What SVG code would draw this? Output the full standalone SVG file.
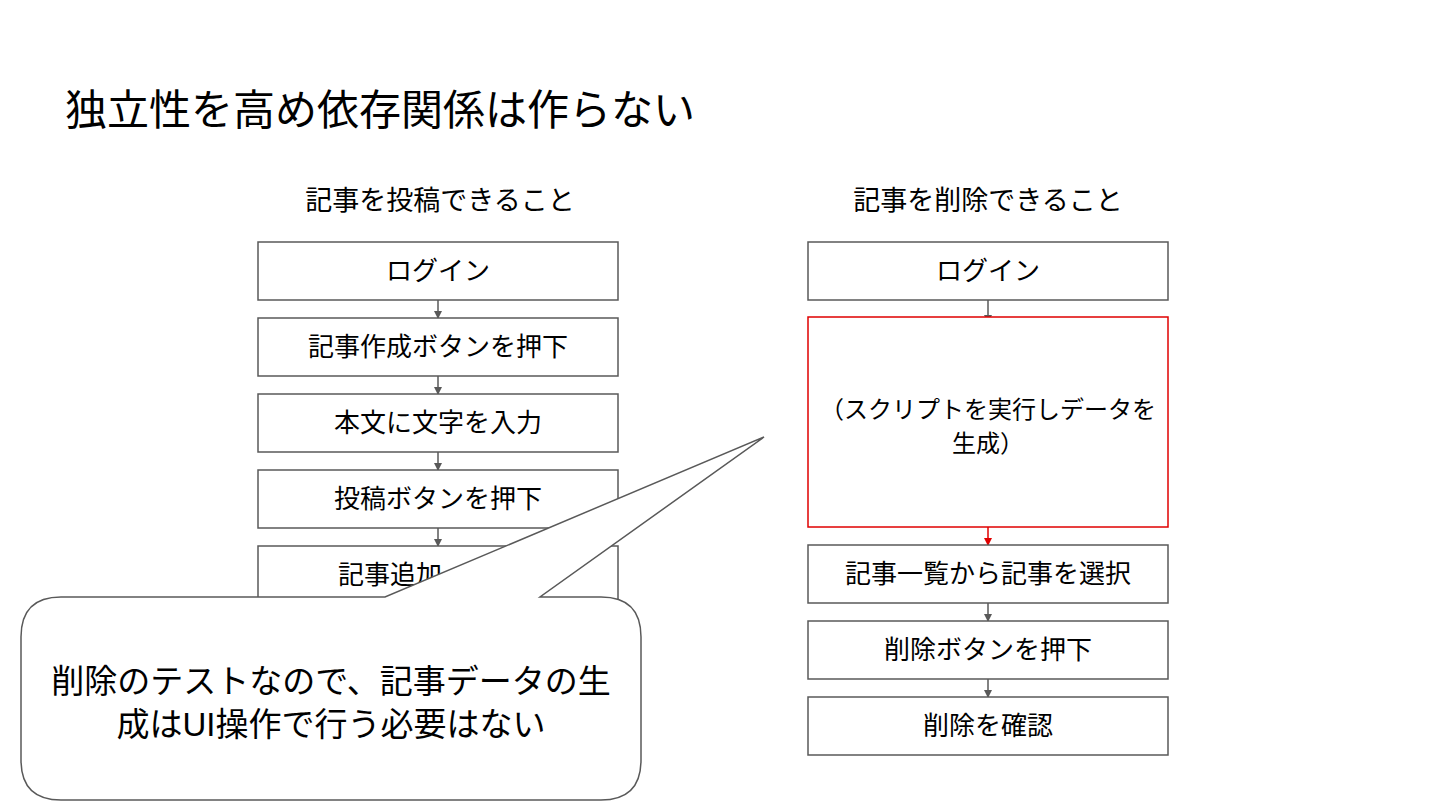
<svg xmlns="http://www.w3.org/2000/svg" width="1440" height="810" viewBox="0 0 1440 810">
<defs>
<style>
text{font-family:"Liberation Sans","Noto Sans CJK JP",sans-serif;fill:#000;}
.box{fill:#fff;stroke:#595959;stroke-width:1.5;}
.red{fill:#fff;stroke:#e00000;stroke-width:1.5;}
.lbl{font-size:26px;text-anchor:middle;}
.hdr{font-size:27px;text-anchor:middle;}
.con{stroke:#595959;stroke-width:1.5;fill:none;}
.conr{stroke:#e00000;stroke-width:1.5;fill:none;}
</style>
<marker id="ah" markerWidth="8" markerHeight="8" refX="7" refY="4" orient="auto" markerUnits="userSpaceOnUse"><path d="M0,0 L8,4 L0,8 z" fill="#595959"/></marker>
<marker id="ahr" markerWidth="8" markerHeight="8" refX="7" refY="4" orient="auto" markerUnits="userSpaceOnUse"><path d="M0,0 L8,4 L0,8 z" fill="#e00000"/></marker>
</defs>
<rect width="1440" height="810" fill="#fff"/>
<text x="65" y="125" style="font-size:42px">独立性を高め依存関係は作らない</text>
<text class="hdr" x="440" y="210">記事を投稿できること</text>
<text class="hdr" x="988" y="210">記事を削除できること</text>
<g id="connectors">
<line class="con" x1="438" y1="300" x2="438" y2="318" marker-end="url(#ah)"/>
<line class="con" x1="438" y1="376" x2="438" y2="394" marker-end="url(#ah)"/>
<line class="con" x1="438" y1="452" x2="438" y2="470" marker-end="url(#ah)"/>
<line class="con" x1="438" y1="528" x2="438" y2="546" marker-end="url(#ah)"/>
<line class="con" x1="988" y1="300" x2="988" y2="322" marker-end="url(#ah)"/>
<line class="conr" x1="988" y1="527" x2="988" y2="545" marker-end="url(#ahr)"/>
<line class="con" x1="988" y1="603" x2="988" y2="621" marker-end="url(#ah)"/>
<line class="con" x1="988" y1="679" x2="988" y2="697" marker-end="url(#ah)"/>
</g>
<g id="l1"><rect class="box" x="258" y="242" width="360" height="58"/><text class="lbl" x="438" y="280">ログイン</text></g>
<g id="l2"><rect class="box" x="258" y="318" width="360" height="58"/><text class="lbl" x="438" y="356">記事作成ボタンを押下</text></g>
<g id="l3"><rect class="box" x="258" y="394" width="360" height="58"/><text class="lbl" x="438" y="432">本文に文字を入力</text></g>
<g id="l4"><rect class="box" x="258" y="470" width="360" height="58"/><text class="lbl" x="438" y="508">投稿ボタンを押下</text></g>
<g id="l5"><rect class="box" x="258" y="546" width="360" height="58"/><text x="338" y="584" style="font-size:26px">記事追加</text></g>
<g id="r1"><rect class="box" x="808" y="242" width="360" height="58"/><text class="lbl" x="988" y="280">ログイン</text></g>
<g id="r2"><rect class="red" x="808" y="317" width="360" height="210"/><text x="988" y="418" style="font-size:24px;text-anchor:middle">（スクリプトを実行しデータを</text><text x="988" y="452" style="font-size:24px;text-anchor:middle">生成）</text></g>
<g id="r3"><rect class="box" x="808" y="545" width="360" height="58"/><text class="lbl" x="988" y="583">記事一覧から記事を選択</text></g>
<g id="r4"><rect class="box" x="808" y="621" width="360" height="58"/><text class="lbl" x="988" y="659">削除ボタンを押下</text></g>
<g id="r5"><rect class="box" x="808" y="697" width="360" height="58"/><text class="lbl" x="988" y="735">削除を確認</text></g>
<g id="callout">
<path d="M61,597 L385,597 L764,437 L540,597 L601,597 Q641,597 641,637 L641,760 Q641,800 601,800 L61,800 Q21,800 21,760 L21,637 Q21,597 61,597 Z" fill="#fff" stroke="#595959" stroke-width="1.5"/>
<text x="331" y="693" style="font-size:33px;text-anchor:middle">削除のテストなので、記事データの生</text>
<text x="331" y="736" style="font-size:33px;text-anchor:middle">成はUI操作で行う必要はない</text>
</g>
</svg>
